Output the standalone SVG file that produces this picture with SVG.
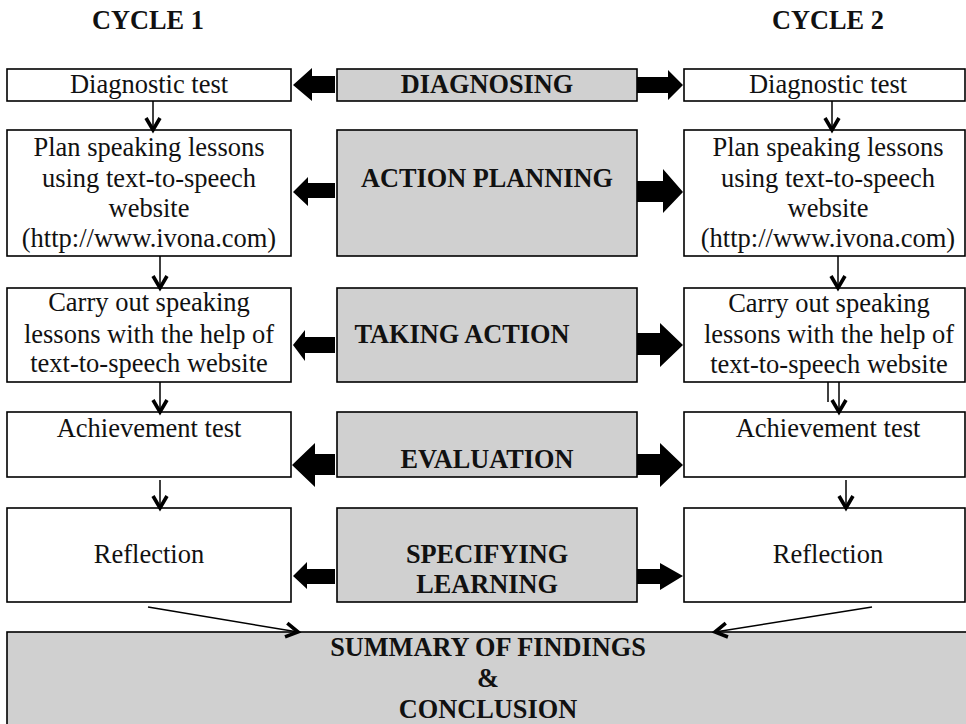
<svg xmlns="http://www.w3.org/2000/svg" width="966" height="724" viewBox="0 0 966 724">
<style>
.box{fill:#ffffff;stroke:#000;stroke-width:1.6}
.gbox{fill:#d0d0d0;stroke:#000;stroke-width:1.6}
.t{font-family:"Liberation Serif","Times New Roman",serif;font-size:26.5px;fill:#111;text-anchor:middle}
.b{font-family:"Liberation Serif","Times New Roman",serif;font-size:26.3px;font-weight:bold;fill:#111;text-anchor:middle}
.blk{fill:#000;stroke:none}
.ln{stroke:#000;stroke-width:1.5;fill:none}
</style>
<defs>
<marker id="chev" viewBox="-14 -9 16 18" refX="0" refY="0" markerWidth="16" markerHeight="18" markerUnits="userSpaceOnUse" orient="auto" overflow="visible">
<path d="M-12,-7 L0,0 L-12,7" fill="none" stroke="#000" stroke-width="3.6" stroke-linejoin="miter"/>
</marker>
</defs>
<rect width="966" height="724" fill="#fff"/>

<g id="headers">
<text class="b" x="148" y="29">CYCLE 1</text>
<text class="b" x="828" y="29">CYCLE 2</text>
</g>

<g id="l-diag"><rect class="box" x="7" y="69" width="284" height="32"/><text class="t" x="149" y="93">Diagnostic test</text></g>
<g id="l-plan"><rect class="box" x="7" y="130" width="284" height="126"/>
<text class="t" x="149" y="156">Plan speaking lessons</text>
<text class="t" x="149" y="187">using text-to-speech</text>
<text class="t" x="149" y="217">website</text>
<text class="t" x="149" y="247">(http://www.ivona.com)</text></g>
<g id="l-carry"><rect class="box" x="7" y="288" width="284" height="94"/>
<text class="t" x="149" y="311">Carry out speaking</text>
<text class="t" x="149" y="343">lessons with the help of</text>
<text class="t" x="149" y="372">text-to-speech website</text></g>
<g id="l-ach"><rect class="box" x="7" y="412" width="284" height="65"/><text class="t" x="149" y="437">Achievement test</text></g>
<g id="l-ref"><rect class="box" x="7" y="508" width="284" height="94"/><text class="t" x="149" y="563">Reflection</text></g>

<g id="m-diag"><rect class="gbox" x="337" y="69" width="300" height="32"/><text class="b" x="487" y="93">DIAGNOSING</text></g>
<g id="m-plan"><rect class="gbox" x="337" y="130" width="300" height="126"/><text class="b" x="487" y="187">ACTION PLANNING</text></g>
<g id="m-take"><rect class="gbox" x="337" y="288" width="300" height="94"/><text class="b" x="462" y="343">TAKING ACTION</text></g>
<g id="m-eval"><rect class="gbox" x="337" y="412" width="300" height="65"/><text class="b" x="487" y="468">EVALUATION</text></g>
<g id="m-spec"><rect class="gbox" x="337" y="508" width="300" height="94"/><text class="b" x="487" y="563">SPECIFYING</text><text class="b" x="487" y="593">LEARNING</text></g>

<g id="r-diag"><rect class="box" x="684" y="69" width="281" height="32"/><text class="t" x="828" y="93">Diagnostic test</text></g>
<g id="r-plan"><rect class="box" x="684" y="130" width="281" height="126"/>
<text class="t" x="828" y="156">Plan speaking lessons</text>
<text class="t" x="828" y="187">using text-to-speech</text>
<text class="t" x="828" y="217">website</text>
<text class="t" x="828" y="247">(http://www.ivona.com)</text></g>
<g id="r-carry"><rect class="box" x="684" y="288" width="281" height="94"/>
<text class="t" x="829" y="312">Carry out speaking</text>
<text class="t" x="829" y="343">lessons with the help of</text>
<text class="t" x="829" y="373">text-to-speech website</text></g>
<g id="r-ach"><rect class="box" x="684" y="412" width="281" height="65"/><text class="t" x="828" y="437">Achievement test</text></g>
<g id="r-ref"><rect class="box" x="684" y="508" width="281" height="94"/><text class="t" x="828" y="563">Reflection</text></g>

<g id="summary"><rect class="gbox" x="7" y="632" width="975" height="110"/>
<text class="b" x="488" y="656">SUMMARY OF FINDINGS</text>
<text class="b" x="488" y="687">&amp;</text>
<text class="b" x="488" y="718">CONCLUSION</text></g>

<g id="connectors">
<polygon class="blk" points="335,76 312,76 312,68 293,85 312,101 312,93 335,93"/>
<polygon class="blk" points="637,77 668,77 668,70 683,85 668,100 668,93 637,93"/>
<polygon class="blk" points="335,183 308,183 308,177 293,192 308,206 308,198 335,198"/>
<polygon class="blk" points="637,181 663,181 663,169 683,192 663,213 663,202 637,202"/>
<polygon class="blk" points="335,337 305,337 305,330 293,345 305,361 305,353 335,353"/>
<polygon class="blk" points="637,333 660,333 660,323 683,345 660,367 660,355 637,355"/>
<polygon class="blk" points="335,454 315,454 315,443 292,465 315,487 315,475 335,475"/>
<polygon class="blk" points="637,454 660,454 660,443 683,465 660,487 660,475 637,475"/>
<polygon class="blk" points="335,569 307,569 307,562 293,576 307,589 307,584 335,584"/>
<polygon class="blk" points="637,569 660,569 660,563 683,576 660,590 660,584 637,584"/>

<line class="ln" x1="153" y1="101" x2="153" y2="130" marker-end="url(#chev)"/>
<line class="ln" x1="160" y1="256" x2="160" y2="288" marker-end="url(#chev)"/>
<line class="ln" x1="160" y1="382" x2="160" y2="412" marker-end="url(#chev)"/>
<line class="ln" x1="160" y1="480" x2="160" y2="508" marker-end="url(#chev)"/>
<line class="ln" x1="832" y1="101" x2="832" y2="130" marker-end="url(#chev)"/>
<line class="ln" x1="838" y1="256" x2="838" y2="288" marker-end="url(#chev)"/>
<line class="ln" x1="828" y1="382" x2="828" y2="402"/>
<line class="ln" x1="839" y1="382" x2="839" y2="412" marker-end="url(#chev)"/>
<line class="ln" x1="846" y1="480" x2="846" y2="508" marker-end="url(#chev)"/>
<line class="ln" x1="148" y1="607" x2="298" y2="632" marker-end="url(#chev)"/>
<line class="ln" x1="872" y1="607" x2="715" y2="632" marker-end="url(#chev)"/>
</g>
</svg>
